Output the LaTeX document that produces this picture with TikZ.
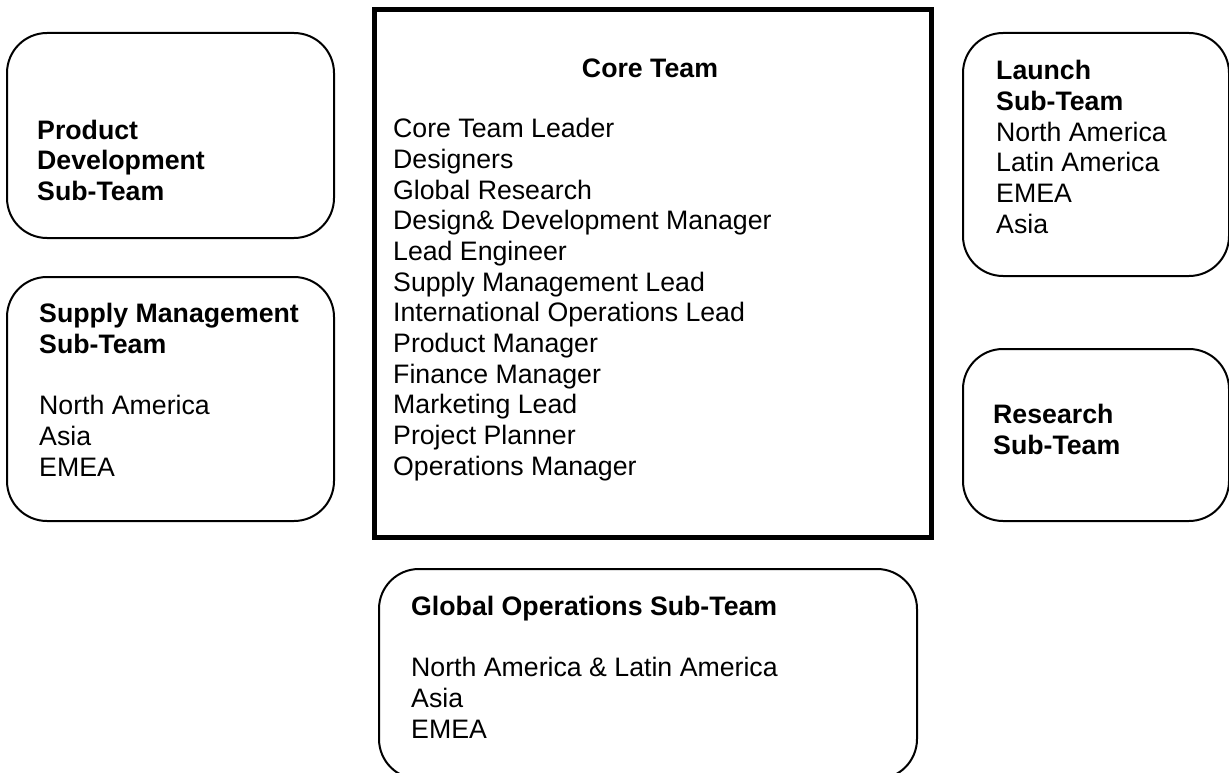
\documentclass[tikz,border=0pt]{standalone}
\usepackage{fontspec}
\setmainfont{Liberation Sans}
\usepackage{tikz}

\begin{document}
\begin{tikzpicture}[
  x=1pt, y=-1pt,
  font=\fontsize{26.7}{30.65}\selectfont,
  sub/.style={rectangle, draw, line width=2pt, rounded corners=40pt, anchor=north west},
  core/.style={rectangle, draw, line width=5pt, anchor=north west},
  txt/.style={anchor=base west, align=left, inner sep=0pt}
]
  \useasboundingbox (0,0) rectangle (1229,773);
  % boxes
  \node[core, minimum width=557, minimum height=527.5] (corebox) at (371.5,7.5) {};
  \node[sub, minimum width=327, minimum height=205] (pdbox) at (6,32) {};
  \node[sub, minimum width=327, minimum height=244] (smbox) at (6,276) {};
  \node[sub, minimum width=266, minimum height=243] (lnbox) at (962,32) {};
  \node[sub, minimum width=266, minimum height=172] (rsbox) at (962,348) {};
  \node[sub, minimum width=538, minimum height=210] (gobox) at (378,568) {};
  % texts (placed at the baseline of their last line)
  \node[anchor=base, inner sep=0pt, font=\fontsize{26.7}{30.65}\selectfont\bfseries] (coretitle) at (650,78) {Core Team};
  \node[txt] (corelist) at (393,475) {Core Team Leader\\Designers\\Global Research\\Design\& Development Manager\\Lead Engineer\\Supply Management Lead\\International Operations Lead\\Product Manager\\Finance Manager\\Marketing Lead\\Project Planner\\Operations Manager};
  \node[txt, font=\fontsize{26.7}{30.65}\selectfont\bfseries] (pdtext) at (37,200.5) {Product\\Development\\Sub-Team};
  \node[txt] (smtext) at (39,476) {\textbf{Supply Management}\\\textbf{Sub-Team}\\[30.65pt]North America\\Asia\\EMEA};
  \node[txt] (lntext) at (996,233) {\textbf{Launch}\\\textbf{Sub-Team}\\North America\\Latin America\\EMEA\\Asia};
  \node[txt, font=\fontsize{26.7}{30.65}\selectfont\bfseries] (rstext) at (993,454) {Research\\Sub-Team};
  \node[txt] (gotext) at (411,738) {\textbf{Global Operations Sub-Team}\\[30.65pt]North America \& Latin America\\Asia\\EMEA};
\end{tikzpicture}
\end{document}
